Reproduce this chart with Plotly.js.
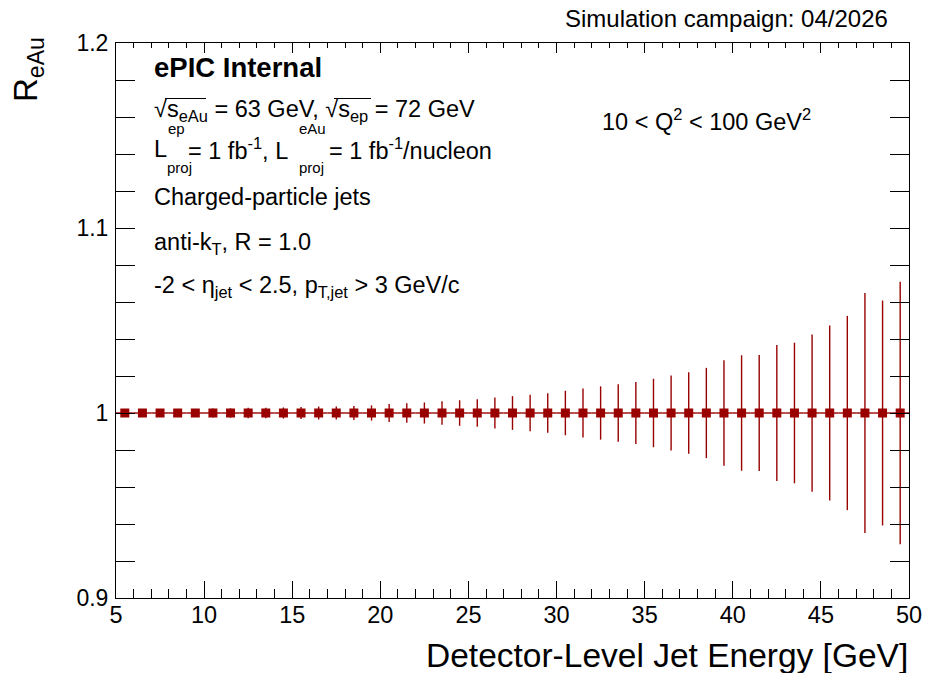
<!DOCTYPE html>
<html>
<head>
<meta charset="utf-8">
<script src="https://cdn.plot.ly/plotly-3.0.1.min.js"></script>
<style>html,body{margin:0;padding:0;background:#fff;}#chart{width:926px;height:673px;}</style>
</head>
<body>
<div id="chart"></div>
<script>
// Jet energy bin centers [GeV]
const energyBins = [5.5, 6.5, 7.5, 8.5, 9.5, 10.5, 11.5, 12.5, 13.5, 14.5,
  15.5, 16.5, 17.5, 18.5, 19.5, 20.5, 21.5, 22.5, 23.5, 24.5,
  25.5, 26.5, 27.5, 28.5, 29.5, 30.5, 31.5, 32.5, 33.5, 34.5,
  35.5, 36.5, 37.5, 38.5, 39.5, 40.5, 41.5, 42.5, 43.5, 44.5,
  45.5, 46.5, 47.5, 48.5, 49.5];
// Bin half widths [GeV]
const binHalfWidth = [0.5, 0.5, 0.5, 0.5, 0.5, 0.5, 0.5, 0.5, 0.5, 0.5,
  0.5, 0.5, 0.5, 0.5, 0.5, 0.5, 0.5, 0.5, 0.5, 0.5,
  0.5, 0.5, 0.5, 0.5, 0.5, 0.5, 0.5, 0.5, 0.5, 0.5,
  0.5, 0.5, 0.5, 0.5, 0.5, 0.5, 0.5, 0.5, 0.5, 0.5,
  0.5, 0.5, 0.5, 0.5, 0.5];
// Projected R_eAu
const ratioEAu = [1, 1, 1, 1, 1, 1, 1, 1, 1, 1,
  1, 1, 1, 1, 1, 1, 1, 1, 1, 1,
  1, 1, 1, 1, 1, 1, 1, 1, 1, 1,
  1, 1, 1, 1, 1, 1, 1, 1, 1, 1,
  1, 1, 1, 1, 1];
// Projected statistical uncertainty
const statErr = [0.0010, 0.0011, 0.0012, 0.0014, 0.0018, 0.0024, 0.0025, 0.0028, 0.0029, 0.0030,
  0.0033, 0.0035, 0.0035, 0.0038, 0.0041, 0.0048, 0.0053, 0.0057, 0.0063, 0.0069,
  0.0074, 0.0084, 0.0091, 0.0099, 0.0107, 0.0120, 0.0132, 0.0144, 0.0156, 0.0168,
  0.0185, 0.0203, 0.0220, 0.0244, 0.0285, 0.0312, 0.0314, 0.0367, 0.0380, 0.0425,
  0.0473, 0.0525, 0.0648, 0.0608, 0.0710];
const xTickVals = [5, 10, 15, 20, 25, 30, 35, 40, 45, 50];
const xTickText = ['5', '10', '15', '20', '25', '30', '35', '40', '45', '50'];
const yTickVals = [0.9, 1.0, 1.1, 1.2];
const yTickText = ['0.9', '1', '1.1', '1.2'];

const FONT = '"Liberation Sans", Arial, Helvetica, sans-serif';
const RED = '#990000';

// plot area in pixels: x 116..909, y 43..598
const L = 116, R = 909, T = 43, B = 598;
const px = v => (v - L) / (R - L);
const py = v => (B - v) / (B - T);

function ann(text, x, y, size, opts) {
  return Object.assign({
    text: text, xref: 'paper', yref: 'paper', x: px(x), y: py(y),
    xanchor: 'left', yanchor: 'middle', showarrow: false,
    font: {family: FONT, size: size, color: '#000'}
  }, opts || {});
}
function hline(x0, x1, y) {
  return {type: 'line', xref: 'paper', yref: 'paper', x0: px(x0), x1: px(x1), y0: py(y), y1: py(y),
    line: {color: '#000', width: 1.2}};
}

const TS = 23.5; // text size
const SS = 15;   // stacked script size

const annotations = [
  ann('Simulation campaign: 04/2026', 890, 18, 24, {xanchor: 'right'}),
  ann('<b>ePIC Internal</b>', 152, 67, 27.5),
  ann('√s<sub>eAu</sub> = 63 GeV, √s<sub>ep</sub> = 72 GeV', 152, 111, TS),
  ann('L', 152, 149, TS),
  ann('ep', 166, 128, SS),
  ann('proj', 165, 167, SS),
  ann('= 1 fb<sup>-1</sup>, L', 186, 149, TS),
  ann('eAu', 297, 128, SS),
  ann('proj', 297, 167, SS),
  ann('= 1 fb<sup>-1</sup>/nucleon', 327, 149, TS),
  ann('Charged-particle jets', 152, 197, TS),
  ann('anti-k<sub>T</sub>, R = 1.0', 152, 243, TS),
  ann('-2 &lt; η<sub>jet</sub> &lt; 2.5, p<sub>T,jet</sub> &gt; 3 GeV/c', 152, 286, TS),
  ann('10 &lt; Q<sup>2</sup> &lt; 100 GeV<sup>2</sup>', 600, 120, TS),
  ann('Detector-Level Jet Energy [GeV]', 910, 655, 33.5, {xanchor: 'right'}),
  ann('R<sub>eAu</sub>', 28, 70, 33, {xanchor: 'center', textangle: -90})
];

const data = [
  {
    type: 'scatter', mode: 'markers',
    x: energyBins, y: ratioEAu,
    marker: {symbol: 'square', size: 9, color: RED},
    error_y: {type: 'data', array: statErr, visible: true, color: RED, thickness: 1.4, width: 0},
    error_x: {type: 'data', array: binHalfWidth, visible: true, color: RED, thickness: 1.4, width: 0},
    cliponaxis: false, hoverinfo: 'x+y', showlegend: false
  },
  {type: 'scatter', mode: 'markers', x: [], y: [], xaxis: 'x2', yaxis: 'y', showlegend: false, hoverinfo: 'skip'}
];

const layout = {
  width: 926, height: 673,
  margin: {l: L, r: 926 - R, t: T, b: 673 - B, pad: 0},
  paper_bgcolor: '#fff', plot_bgcolor: '#fff',
  showlegend: false,
  font: {family: FONT, color: '#000'},
  xaxis: {
    range: [5, 50], tickmode: 'array', tickvals: xTickVals, ticktext: xTickText,
    ticks: 'inside', ticklen: 17, tickwidth: 1, tickcolor: '#000',
    minor: {ticks: 'inside', ticklen: 9, dtick: 1, tick0: 5, tickcolor: '#000', tickwidth: 1, showgrid: false},
    showgrid: false, zeroline: false, showline: true, linecolor: '#000', linewidth: 1, mirror: true,
    tickfont: {family: FONT, size: 23.5, color: '#000'}, ticklabelstandoff: -4, fixedrange: true
  },
  xaxis2: {
    range: [5, 50], overlaying: 'x', anchor: 'y', side: 'top', tickmode: 'array', tickvals: xTickVals,
    ticks: 'inside', ticklen: 10, tickwidth: 1, tickcolor: '#000',
    minor: {ticks: 'inside', ticklen: 5, dtick: 1, tick0: 5, tickcolor: '#000', tickwidth: 1, showgrid: false},
    showticklabels: false, showgrid: false, zeroline: false, showline: false, fixedrange: true
  },
  yaxis: {
    range: [0.9, 1.2], tickmode: 'array', tickvals: yTickVals, ticktext: yTickText,
    ticks: 'inside', ticklen: 19, tickwidth: 1, tickcolor: '#000',
    minor: {ticks: 'inside', ticklen: 10, dtick: 0.02, tick0: 0.9, tickcolor: '#000', tickwidth: 1, showgrid: false},
    showgrid: false, zeroline: false, showline: true, linecolor: '#000', linewidth: 1, mirror: 'allticks',
    tickfont: {family: FONT, size: 23, color: '#000'}, ticklabelstandoff: 2, fixedrange: true
  },
  shapes: [hline(165, 206, 98.5), hline(334, 371, 98.5)],
  annotations: annotations
};

Plotly.newPlot('chart', data, layout, {staticPlot: true, displayModeBar: false});
</script>
</body>
</html>
